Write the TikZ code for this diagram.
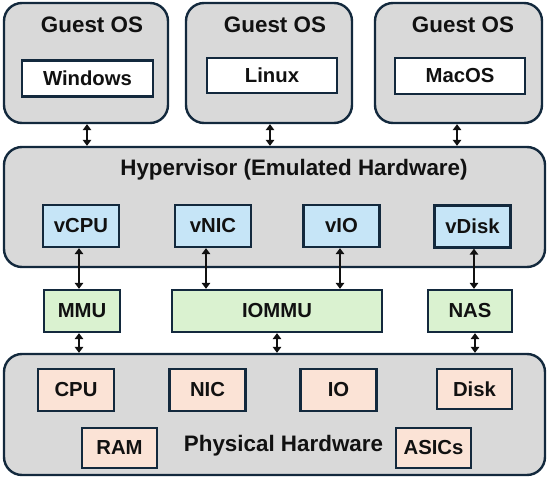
\documentclass[tikz,border=0pt]{standalone}
\usepackage{fontspec}
\setmainfont{Liberation Sans}
\usetikzlibrary{arrows.meta}
\definecolor{edge}{HTML}{13293D}
\definecolor{greyfill}{HTML}{D9D9D9}
\definecolor{bluefill}{HTML}{C6E5F7}
\definecolor{greenfill}{HTML}{DAF2D0}
\definecolor{peachfill}{HTML}{FBE3D6}
\definecolor{ink}{HTML}{111111}
\tikzset{
  bigbox/.style={draw=edge, fill=greyfill, line width=2.4pt, rounded corners=18pt, inner sep=0pt},
  inbox/.style={draw=edge, line width=2.3pt, inner sep=0pt, text=ink,
    font=\fontsize{20.3}{24}\selectfont\bfseries, minimum width=76pt, minimum height=42pt},
  osbox/.style={inbox, fill=white, minimum width=131pt, minimum height=36pt},
  vbox/.style={inbox, fill=bluefill},
  mbox/.style={inbox, fill=greenfill},
  pbox/.style={inbox, fill=peachfill},
  title/.style={text=ink, font=\fontsize{22.4}{26}\selectfont\bfseries, inner sep=0pt},
  link/.style={{Triangle[length=6pt,width=8.5pt]}-{Triangle[length=6pt,width=8.5pt]}, line width=1.8pt, draw=ink}
}
\begin{document}
\begin{tikzpicture}[x=1pt,y=-1pt]
\useasboundingbox (0,0) rectangle (550,479);
% Guest OS boxes
\node[bigbox, minimum width=164pt, minimum height=120pt] (g1) at (86,63) {};
\node[bigbox, minimum width=166pt, minimum height=120pt] (g2) at (269,63) {};
\node[bigbox, minimum width=167pt, minimum height=120pt] (g3) at (458.5,63) {};
\node[title] (t1) at (92,25) {Guest OS};
\node[title] (t2) at (275,25) {Guest OS};
\node[title] (t3) at (463,25) {Guest OS};
\node[osbox] (win) at (87.5,78.5) {Windows};
\node[osbox, minimum width=130pt, minimum height=35pt] (lin) at (272,75.5) {Linux};
\node[osbox, minimum width=130pt] (mac) at (460,76) {MacOS};
% Hypervisor
\node[bigbox, minimum width=541pt, minimum height=120pt] (hyp) at (274.5,207) {};
\node[title] (th) at (294,170) {Hypervisor (Emulated Hardware)};
\node[vbox] (vcpu) at (81,226) {vCPU};
\node[vbox] (vnic) at (213,226) {vNIC};
\node[vbox] (vio) at (341.5,226) {vIO};
\node[vbox] (vdisk) at (472.5,226.5) {vDisk};
% middle
\node[mbox] (mmu) at (82,311) {MMU};
\node[mbox, minimum width=210pt] (iommu) at (277,311) {IOMMU};
\node[mbox, minimum width=84pt] (nas) at (470,311) {NAS};
% Physical
\node[bigbox, minimum width=541pt, minimum height=121pt] (phy) at (274.5,414.5) {};
\node[title] (tp) at (283.5,445.5) {Physical Hardware};
\node[pbox] (cpu) at (76,390) {CPU};
\node[pbox] (nic) at (207.5,390) {NIC};
\node[pbox] (io) at (338.5,390) {IO};
\node[pbox, minimum width=75pt, minimum height=40pt] (disk) at (474.5,389) {Disk};
\node[pbox, minimum width=75pt, minimum height=40pt] (ram) at (119.5,448) {RAM};
\node[pbox, minimum width=75pt, minimum height=40pt] (asics) at (433.5,448) {ASICs};
% connectors
\draw[link] ([xshift=1pt]g1.south) -- ([xshift=1pt]g1.south |- hyp.north);
\draw[link] ([xshift=1pt]g2.south) -- ([xshift=1pt]g2.south |- hyp.north);
\draw[link] ([xshift=-1.5pt]g3.south) -- ([xshift=-1.5pt]g3.south |- hyp.north);
\draw[link] ([xshift=-2pt]vcpu.south) -- ([xshift=-2pt]vcpu.south |- mmu.north);
\draw[link] ([xshift=-7pt]vnic.south) -- ([xshift=-7pt]vnic.south |- iommu.north);
\draw[link] ([xshift=-1.5pt]vio.south) -- ([xshift=-1.5pt]vio.south |- iommu.north);
\draw[link] ([xshift=1.5pt]vdisk.south) -- ([xshift=1.5pt]vdisk.south |- nas.north);
\draw[link] ([xshift=-3pt]mmu.south) -- ([xshift=-3pt]mmu.south |- phy.north);
\draw[link] (iommu.south) -- (iommu.south |- phy.north);
\draw[link] ([xshift=5pt]nas.south) -- ([xshift=5pt]nas.south |- phy.north);
\end{tikzpicture}
\end{document}
